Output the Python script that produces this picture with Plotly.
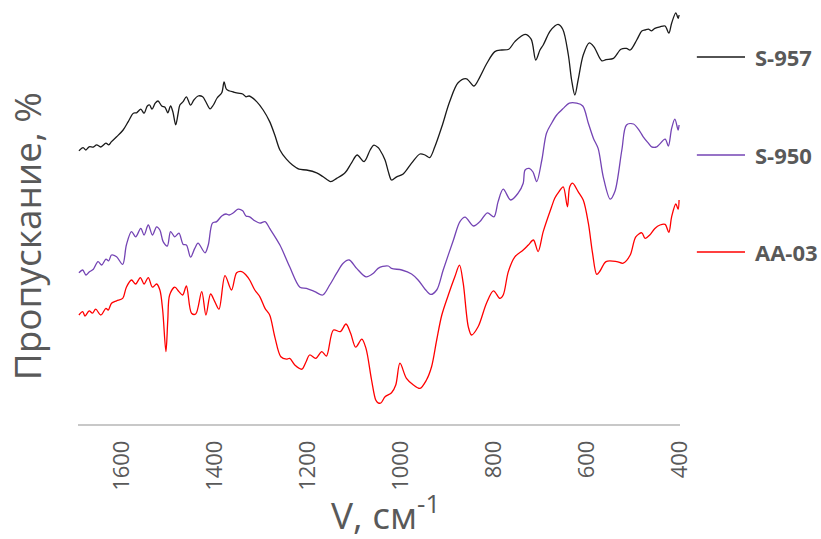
import plotly.graph_objects as go

# Wavenumbers (cm-1) and transmittance (arb. %, offset spectra)
wn_s957 = [1692,1683,1677,1670,1661,1654,1645,1634,1628,1622,1611,1597,1586,1575,1568,1559,1552,1545,1540,1535,
           1528,1522,1514,1507,1501,1495,1490,1484,1479,1475,1468,1461,1452,1445,1436,1426,1419,1410,1403,1395,
           1385,1380,1375,1368,1360,1350,1340,1333,1326,1310,1296,1282,1271,1260,1246,1233,1219,1203,1181,1167,
           1151,1138,1120,1106,1094,1079,1066,1058,1049,1045,1034,1027,1020,1009,995,977,959,948,938,927,
           912,895,877,859,843,830,816,798,783,768,755,733,720,710,701,694,680,669,662,652,
           640,633,626,619,608,595,585,568,559,543,527,515,507,493,482,475,468,461,454,443,
           432,424,418,409,404,402]
t_s957 = [68.3,69.1,68.5,69.3,69.25,69.8,69.25,70.2,69.8,70.6,71.8,73.5,75.6,77.7,77.8,78.7,77.7,79.5,79.75,78.7,
          80.2,80.75,79.5,79.2,77.8,79.5,78.0,74.8,77.5,79.75,80.6,81.8,79.7,81.0,82.0,81.8,80.5,78.8,79.75,81.5,
          82.8,85.5,83.7,83.25,83.0,82.7,82.5,81.8,82.0,80.6,78.5,75.6,72.25,68.5,66.2,64.75,63.7,63.5,62.8,61.8,
          60.6,61.4,62.8,65.3,67.25,65.6,68.5,69.7,69.1,68.5,66.0,63.1,61.0,61.8,62.5,65.2,67.5,67.25,66.6,69.3,
          74.3,80.6,85.3,86.3,84.5,86.8,90.0,93.1,93.5,93.7,95.6,97.4,96.2,91.0,93.5,94.75,98.1,99.5,99.9,98.7,
          92.25,86.0,82.25,86.0,92.25,95.3,94.3,90.8,91.1,91.4,93.7,93.9,93.5,96.0,98.25,98.5,98.7,98.3,98.9,99.3,
          99.5,97.7,100.2,102.8,101.4,102.25]

wn_s950 = [1692,1684,1677,1670,1661,1651,1643,1634,1628,1622,1611,1598,1590,1579,1570,1559,1552,1543,1534,1525,
           1518,1511,1502,1495,1486,1477,1468,1461,1452,1443,1436,1421,1414,1405,1396,1385,1376,1369,1360,1350,
           1340,1333,1325,1314,1303,1292,1282,1260,1239,1217,1203,1185,1168,1153,1138,1124,1111,1095,1075,1059,
           1049,1039,1027,1020,998,977,963,948,936,923,909,887,873,862,844,830,814,800,791,780,
           764,748,737,733,724,716,708,697,687,676,665,651,638,622,609,597,586,576,565,550,
           540,525,515,500,486,479,468,461,450,432,425,418,411,404,402]
t_s950 = [37.8,38.5,37.25,38.0,38.7,40.6,39.75,41.2,40.8,42.25,41.8,39.9,44.75,48.1,46.8,48.9,47.25,49.75,47.25,49.3,
          48.5,45.6,44.5,48.1,46.8,47.7,44.9,44.75,41.7,43.9,45.2,42.8,44.75,50.2,50.6,52.0,52.5,52.25,52.8,53.7,
          53.3,52.0,51.8,50.8,50.2,50.6,48.9,44.75,39.3,34.2,33.9,33.1,32.25,34.75,37.7,40.2,41.0,38.9,36.8,37.7,
          38.9,39.4,39.5,38.9,38.5,37.5,36.0,33.7,32.4,33.5,38.5,46.0,50.6,51.7,49.5,50.6,52.8,51.8,55.6,58.7,
          56.0,57.7,60.2,63.5,63.9,63.0,60.6,66.0,72.7,75.2,77.25,78.9,80.2,80.2,79.5,75.2,71.4,68.9,61.8,56.2,
          58.1,68.5,74.75,75.0,73.1,71.8,70.2,69.3,69.3,71.2,69.5,73.9,76.2,73.5,74.75]

wn_aa03 = [1692,1684,1679,1670,1663,1656,1645,1634,1629,1622,1611,1598,1590,1579,1570,1560,1552,1543,1534,1525,
           1518,1512,1505,1501,1497,1486,1477,1469,1461,1450,1441,1428,1419,1409,1400,1391,1378,1364,1353,1342,
           1333,1325,1314,1303,1292,1282,1271,1258,1246,1239,1228,1213,1204,1196,1183,1170,1160,1145,1130,1118,
           1108,1097,1084,1075,1063,1054,1049,1043,1034,1020,1011,1002,988,973,959,945,934,923,912,898,
           884,874,866,855,848,834,816,801,787,780,769,755,737,726,715,705,694,676,669,660,
           651,642,637,631,619,608,597,588,579,572,559,536,522,507,495,482,475,465,454,443,
           432,424,418,409,404,402]
t_aa03 = [27.25,28.1,27.0,28.3,27.7,28.7,27.25,28.9,28.5,30.2,30.8,31.4,34.2,36.0,35.0,36.6,35.0,36.6,34.2,35.0,
          33.5,28.5,18.1,26.0,32.25,34.2,33.1,32.25,34.5,27.7,27.5,33.1,27.25,32.5,30.6,28.7,37.1,33.5,37.8,38.1,
          37.25,36.0,33.5,31.8,28.9,27.25,21.8,16.8,16.2,16.4,14.75,13.7,15.5,17.25,16.4,18.1,17.0,23.5,23.1,25.0,
          22.7,19.2,21.2,18.9,11.0,6.0,5.3,5.25,6.8,7.8,9.75,15.2,11.4,9.75,8.9,11.0,14.3,21.0,27.25,32.25,
          36.8,39.7,35.2,24.3,22.25,24.3,30.2,33.3,31.4,32.25,38.1,41.8,43.5,44.75,46.0,43.1,48.1,54.3,56.5,58.1,
          59.3,54.3,59.3,60.2,58.1,56.0,50.2,42.7,37.4,38.25,40.6,40.6,40.2,42.25,46.8,47.8,46.4,47.25,48.9,49.75,
          49.9,47.9,51.8,55.0,53.7,56.0]

x_ticks = [1600, 1400, 1200, 1000, 800, 600, 400]
series_names = ["S-957", "S-950", "AA-03"]
series_colors = ["#1a1a1a", "#7444b4", "#ff0000"]

GRAY = "#595959"
FONT = "Open Sans"

fig = go.Figure()
data = [(wn_s957, t_s957), (wn_s950, t_s950), (wn_aa03, t_aa03)]
for (xs, ys), name, col in zip(data, series_names, series_colors):
    fig.add_trace(go.Scatter(x=xs, y=ys, mode="lines", name=name,
                             line=dict(color=col, width=1.3, shape="spline", smoothing=0.9),
                             showlegend=False, hoverinfo="skip"))

# manual legend at right
leg_y = [0.8865, 0.6498, 0.4155]
for name, col, yy in zip(series_names, series_colors, leg_y):
    fig.add_shape(type="line", xref="paper", yref="paper", x0=1.028, x1=1.108, y0=yy, y1=yy,
                  line=dict(color=col, width=1.3))
    fig.add_annotation(xref="paper", yref="paper", x=1.1213, y=yy, xanchor="left", yanchor="middle",
                       text="<b>%s</b>" % name, showarrow=False,
                       font=dict(family=FONT, size=22, color=GRAY))

fig.add_annotation(xref="paper", yref="paper", x=-0.086, y=0.454, xanchor="center", yanchor="middle",
                   text="Пропускание, %", textangle=-90, showarrow=False,
                   font=dict(family=FONT, size=37, color=GRAY))
fig.add_annotation(xref="paper", yref="paper", x=0.5116, y=-0.213, xanchor="center", yanchor="middle",
                   text="V, см<sup>-1</sup>", showarrow=False,
                   font=dict(family=FONT, size=37, color=GRAY))

fig.update_layout(
    width=821, height=539,
    margin=dict(l=78, r=141, t=10, b=115),
    paper_bgcolor="white", plot_bgcolor="white",
    font=dict(family=FONT, color=GRAY),
    xaxis=dict(range=[1694, 400], tickvals=x_ticks, ticktext=[str(v) for v in x_ticks],
               tickangle=-90, ticks="", showgrid=False, zeroline=False,
               showline=True, linecolor="#c8c8c8", linewidth=1.5,
               ticklabelstandoff=6, tickfont=dict(family=FONT, size=22, color=GRAY)),
    yaxis=dict(range=[0, 103.5], showticklabels=False, showgrid=False, zeroline=False,
               showline=False, ticks=""),
)

fig.write_html("out.html")
